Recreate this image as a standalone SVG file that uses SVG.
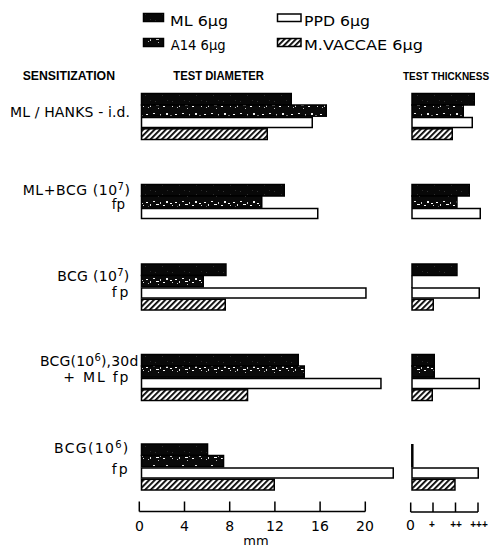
<svg xmlns="http://www.w3.org/2000/svg" width="495" height="546" viewBox="0 0 495 546">
<style>
  text { font-family: "DejaVu Sans", "Liberation Sans", Arial, sans-serif; fill: #000; }
  .hdr { font-family: "Liberation Sans", Arial, sans-serif; font-weight: bold; font-size: 12.5px; }
  .leg { font-size: 13.5px; }
  .lab { font-size: 14px; }
  .tick { font-size: 14px; text-anchor: middle; }
  .plus { font-family: "Liberation Sans", Arial, sans-serif; font-size: 10px; font-weight: bold; text-anchor: middle; }
  .bar { stroke: #000; stroke-width: 1.5; }
  .ml { fill: url(#mlFill); }
  .a14 { fill: url(#a14Fill); }
  .ppd { fill: #fff; }
  .vac { fill: url(#hatch); }
  .axis { stroke: #000; stroke-width: 1.5; fill: none; }
</style>
<defs>
  <pattern id="mlFill" patternUnits="userSpaceOnUse" width="17" height="9">
    <rect width="17" height="9" fill="#080808"/>
    <rect x="2" y="2" width="1" height="1" fill="#333"/>
    <rect x="9" y="5" width="1" height="1" fill="#2e2e2e"/>
    <rect x="14" y="1" width="1" height="1" fill="#2a2a2a"/>
  </pattern>
  <pattern id="a14Fill" patternUnits="userSpaceOnUse" width="29" height="11">
    <rect width="29" height="11" fill="#0a0a0a"/>
    <rect x="1" y="4" width="2" height="1" fill="#fff"/>
    <rect x="5" y="6" width="1" height="2" fill="#ddd"/>
    <rect x="8" y="3" width="2" height="1" fill="#eee"/>
    <rect x="11" y="6" width="3" height="1" fill="#fff"/>
    <rect x="15" y="4" width="1" height="2" fill="#ccc"/>
    <rect x="18" y="7" width="2" height="1" fill="#fff"/>
    <rect x="21" y="3" width="2" height="2" fill="#eee"/>
    <rect x="25" y="5" width="2" height="1" fill="#fff"/>
    <rect x="27" y="7" width="1" height="1" fill="#ddd"/>
    <rect x="3" y="8" width="1" height="1" fill="#bbb"/>
    <rect x="13" y="9" width="1" height="1" fill="#bbb"/>
  </pattern>
  <pattern id="hatch" patternUnits="userSpaceOnUse" width="4" height="4" patternTransform="rotate(45)">
    <rect width="4" height="4" fill="#fff"/>
    <rect x="0" y="0" width="1.8" height="4" fill="#000"/>
  </pattern>
</defs>

<g id="legend">
  <rect class="bar ml" x="143.5" y="13.5" width="20" height="8"/>
  <text class="leg" x="170" y="26" textLength="58" lengthAdjust="spacingAndGlyphs">ML 6μg</text>
  <rect class="bar a14" x="143.5" y="38.5" width="20" height="8"/>
  <text class="leg" x="170.7" y="49.5" textLength="55" lengthAdjust="spacingAndGlyphs">A14 6μg</text>
  <rect class="bar ppd" x="277.5" y="14" width="23.5" height="7.5"/>
  <text class="leg" x="304" y="26" textLength="66" lengthAdjust="spacingAndGlyphs">PPD 6μg</text>
  <rect class="bar vac" x="277.5" y="38.5" width="23.5" height="8"/>
  <text class="leg" x="304" y="49.5" textLength="119" lengthAdjust="spacingAndGlyphs">M.VACCAE 6μg</text>
</g>

<g id="headers">
  <text class="hdr" x="22.7" y="80" textLength="92.3" lengthAdjust="spacingAndGlyphs">SENSITIZATION</text>
  <text class="hdr" x="173.3" y="80" textLength="90.7" lengthAdjust="spacingAndGlyphs">TEST DIAMETER</text>
  <text class="hdr" x="403" y="80" style="font-size:10px">TEST THICKNESS</text>
</g>

<g id="labels">
  <text class="lab" x="10" y="117" textLength="120" lengthAdjust="spacing">ML / HANKS - i.d.</text>
  <text class="lab" x="22.7" y="195" textLength="107.3" lengthAdjust="spacing">ML+BCG (10<tspan font-size="10" dy="-5">7</tspan><tspan dy="5">)</tspan></text>
  <text class="lab" x="111.7" y="209" textLength="13.3" lengthAdjust="spacingAndGlyphs">fp</text>
  <text class="lab" x="57.3" y="281" textLength="72" lengthAdjust="spacing">BCG (10<tspan font-size="10" dy="-5">7</tspan><tspan dy="5">)</tspan></text>
  <text class="lab" x="111.7" y="297" textLength="16.6" lengthAdjust="spacing">fp</text>
  <text class="lab" x="40" y="366" textLength="98.3" lengthAdjust="spacing">BCG(10<tspan font-size="10" dy="-5">6</tspan><tspan dy="5">),30d</tspan></text>
  <text class="lab" x="63.3" y="382" textLength="65" lengthAdjust="spacing">+ ML fp</text>
  <text class="lab" x="54" y="453" textLength="74.3" lengthAdjust="spacing">BCG(10<tspan font-size="10" dy="-5">6</tspan><tspan dy="5">)</tspan></text>
  <text class="lab" x="111.7" y="473.5" textLength="16" lengthAdjust="spacing">fp</text>
</g>

<g id="group1">
  <rect class="bar ml" x="141.5" y="93.5" width="149.75" height="11.5"/>
  <rect class="bar a14" x="141.5" y="105" width="184.75" height="11.2"/>
  <rect class="bar ppd" x="141.5" y="117.5" width="170.75" height="10"/>
  <rect class="bar vac" x="141.5" y="128.8" width="125.75" height="10.7"/>
  <rect class="bar ml" x="412" y="93.5" width="62.25" height="11.5"/>
  <rect class="bar a14" x="412" y="105" width="51.25" height="11.2"/>
  <rect class="bar ppd" x="412" y="117.5" width="60.25" height="10"/>
  <rect class="bar vac" x="412" y="128.8" width="40.25" height="10.7"/>
</g>

<g id="group2">
  <rect class="bar ml" x="141.5" y="184.5" width="142.75" height="11.5"/>
  <rect class="bar a14" x="141.5" y="196" width="120.25" height="11.2"/>
  <rect class="bar ppd" x="141.5" y="208.5" width="176.25" height="10"/>
  <rect class="bar ml" x="412" y="184.5" width="57.25" height="11.5"/>
  <rect class="bar a14" x="412" y="196" width="44.95" height="11.2"/>
  <rect class="bar ppd" x="412" y="208.5" width="68.25" height="10"/>
</g>

<g id="group3">
  <rect class="bar ml" x="141.5" y="264" width="84.45" height="11.5"/>
  <rect class="bar a14" x="141.5" y="275.5" width="61.75" height="11.2"/>
  <rect class="bar ppd" x="141.5" y="288" width="224.45" height="10"/>
  <rect class="bar vac" x="141.5" y="299.3" width="83.75" height="10.7"/>
  <rect class="bar ml" x="412" y="264" width="44.95" height="11.5"/>
  <line class="axis" x1="412" y1="275.5" x2="412" y2="288"/>
  <rect class="bar ppd" x="412" y="288" width="67.25" height="10"/>
  <rect class="bar vac" x="412" y="299.3" width="21.25" height="10.7"/>
</g>

<g id="group4">
  <rect class="bar ml" x="141.5" y="354.5" width="156.75" height="11.5"/>
  <rect class="bar a14" x="141.5" y="366" width="162.75" height="11.2"/>
  <rect class="bar ppd" x="141.5" y="378.5" width="239.45" height="10"/>
  <rect class="bar vac" x="141.5" y="389.8" width="106.05" height="10.7"/>
  <rect class="bar ml" x="412" y="354.5" width="22.25" height="11.5"/>
  <rect class="bar a14" x="412" y="366" width="22.25" height="11.2"/>
  <rect class="bar ppd" x="412" y="378.5" width="67.25" height="10"/>
  <rect class="bar vac" x="412" y="389.8" width="20.25" height="10.7"/>
</g>

<g id="group5">
  <rect class="bar ml" x="141.5" y="444" width="66.05" height="11.5"/>
  <rect class="bar a14" x="141.5" y="455.5" width="82.05" height="11.2"/>
  <rect class="bar ppd" x="141.5" y="468" width="251.75" height="10"/>
  <rect class="bar vac" x="141.5" y="479.3" width="132.75" height="10.7"/>
  <line x1="412.3" y1="444" x2="412.3" y2="467.5" stroke="#000" stroke-width="2.5"/>
  <rect class="bar ppd" x="412" y="468" width="66.25" height="10"/>
  <rect class="bar vac" x="412" y="479.3" width="42.95" height="10.7"/>
</g>

<g id="axes">
  <path class="axis" d="M139.3,511.5 H365.3 M139.3,501.5 V511.5 M184.5,501.5 V511.5 M229.7,501.5 V511.5 M274.9,501.5 V511.5 M320.1,501.5 V511.5 M365.3,501.5 V511.5"/>
  <path class="axis" d="M410.7,512 H478 M410.7,502.5 V512 M433,502.5 V512 M455.5,502.5 V512 M478,502.5 V512"/>
  <text class="tick" x="139.5" y="530.5">0</text>
  <text class="tick" x="184.5" y="530.5">4</text>
  <text class="tick" x="229.7" y="530.5">8</text>
  <text class="tick" x="275" y="530.5">12</text>
  <text class="tick" x="320" y="530.5">16</text>
  <text class="tick" x="365" y="530.5">20</text>
  <text class="tick" x="256" y="544.5" style="font-size:13px">mm</text>
  <text class="tick" x="410.5" y="529.5">0</text>
  <text class="plus" x="432" y="528">+</text>
  <text class="plus" x="456" y="528">++</text>
  <text class="plus" x="479" y="528">+++</text>
</g>
</svg>
